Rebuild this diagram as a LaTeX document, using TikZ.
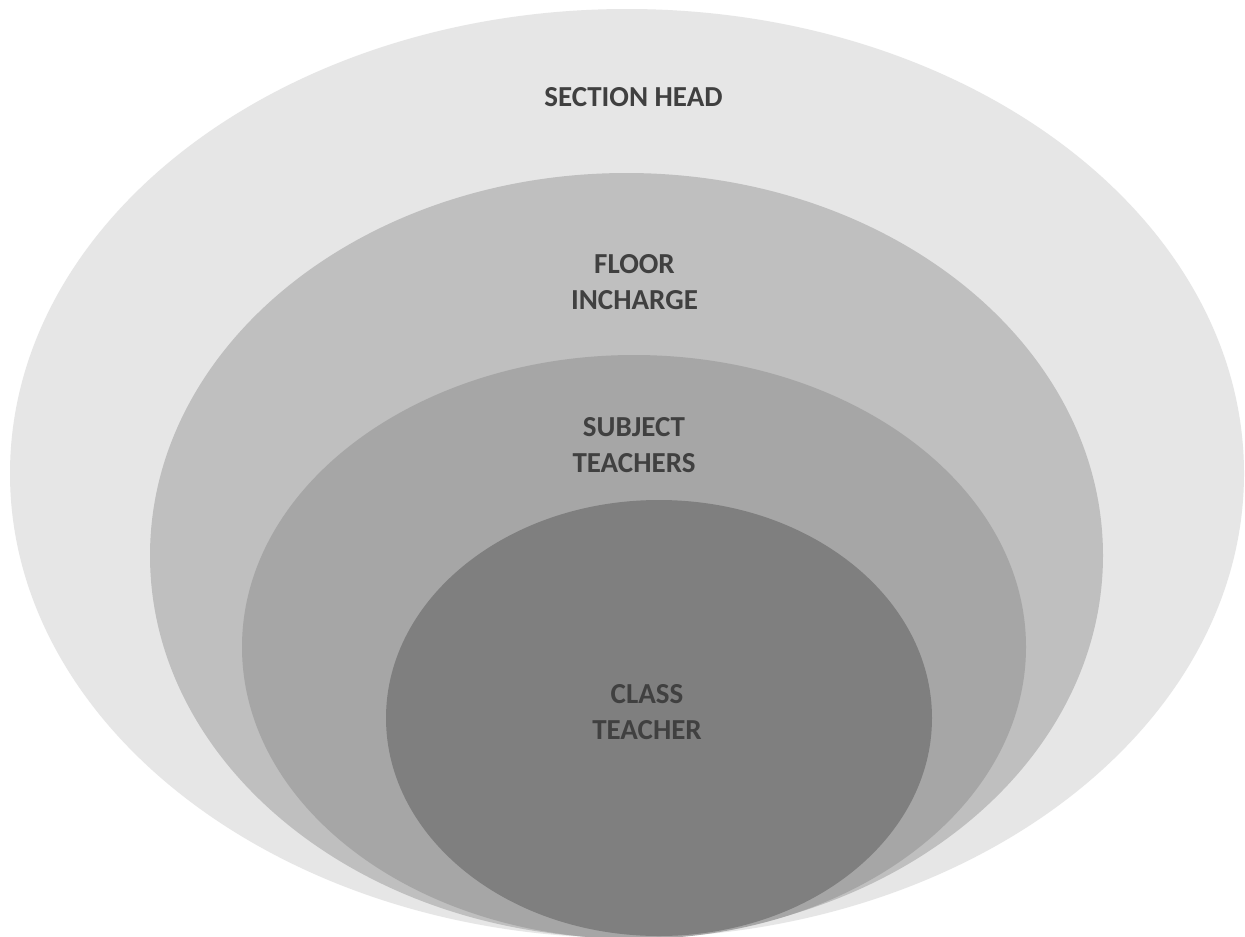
\documentclass[tikz,border=0pt]{standalone}
\usepackage{fontspec}
\setmainfont{Carlito}
\definecolor{ringA}{HTML}{E6E6E6}
\definecolor{ringB}{HTML}{BFBFBF}
\definecolor{ringC}{HTML}{A6A6A6}
\definecolor{ringD}{HTML}{7F7F7F}
\definecolor{labelgray}{HTML}{404040}
\tikzset{
  lbl/.style={font=\fontsize{29}{36}\selectfont\bfseries, text=labelgray, align=center, inner sep=0pt, anchor=center}
}
\begin{document}
\begin{tikzpicture}[x=1pt,y=-1pt]
\fill[white] (0,0) rectangle (1245,937);
\useasboundingbox (0,0) rectangle (1245,937);
\clip (0,0) rectangle (1245,937);
\fill[ringA] (627,473.5) ellipse [x radius=617, y radius=464.5];
\fill[ringB] (626.5,555.5) ellipse [x radius=476.5, y radius=382.5];
\fill[ringC] (634,647) ellipse [x radius=392, y radius=292];
\fill[ringD] (659,718) ellipse [x radius=273, y radius=218];
\node[lbl] (sh) at (633.5,97.5) {SECTION HEAD};
\node[lbl] (fi) at (634.5,282) {FLOOR\\INCHARGE};
\node[lbl] (st) at (634,445) {SUBJECT\\TEACHERS};
\node[lbl] (ct) at (647,712) {CLASS\\TEACHER};
\end{tikzpicture}
\end{document}
